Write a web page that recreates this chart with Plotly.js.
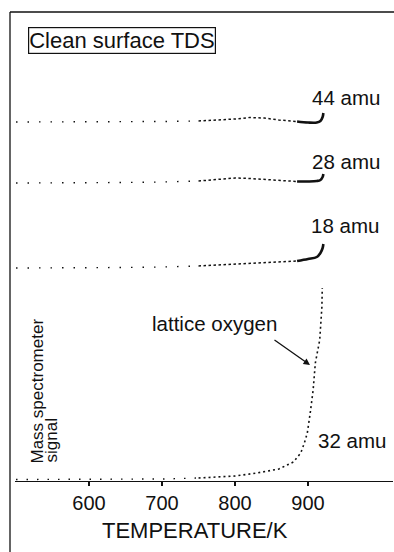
<!DOCTYPE html>
<html>
<head>
<meta charset="utf-8">
<script src="https://cdn.plot.ly/plotly-3.0.1.min.js"></script>
<style>html,body{margin:0;padding:0;background:#fff;}#chart{width:394px;height:552px;}</style>
</head>
<body>
<div id="chart"></div>
<script>
// ---- data (temperature in K, signal in arbitrary offset units) ----
const temps = [500, 550, 600, 650, 700, 750, 780, 800, 820, 840, 860, 885, 900, 912, 917, 920, 921];
const sig44 = [359, 359, 359, 359, 359.5, 360, 361, 362, 363.5, 363, 361, 359.5, 358.5, 358.5, 360, 364, 368];
const sig28 = [298, 298, 298, 298.5, 299, 300, 302, 303, 302.5, 301.5, 300.5, 299.5, 299.5, 300, 301, 304, 307];
const sig18 = [213, 213, 213.5, 213.5, 214, 215, 216, 217, 217.5, 218, 218.5, 220, 222, 224, 228, 233, 237];
const temps32 = [500, 550, 600, 650, 700, 750, 800, 830, 860, 880, 890, 895, 899, 903, 907, 910, 916, 919, 919.5];
const sig32 = [1.5, 1.5, 1.5, 1.5, 2, 3, 5, 8, 12, 19, 28, 38, 48, 68, 91, 118, 141, 174, 193];
const tickVals = [600, 700, 800, 900];
const tickText = ['600', '700', '800', '900'];
const seriesLabels = ['44 amu', '28 amu', '18 amu', '32 amu'];

const INK = '#111';
const FONT = 'Liberation Sans, Arial, Helvetica, sans-serif';

function seg(T, V, lo, hi, dash, width, shape) {
  const x = [], y = [];
  for (let i = 0; i < T.length; i++) {
    if (T[i] >= lo && T[i] <= hi) { x.push(T[i]); y.push(V[i]); }
  }
  return {x: x, y: y, type: 'scatter', mode: 'lines', showlegend: false, hoverinfo: 'skip',
          line: {color: INK, width: width, dash: dash, shape: shape || 'linear'}};
}

const traces = [];
[sig44, sig28, sig18].forEach(function (s) {
  traces.push(seg(temps, s, 0, 760, '1.5px,10px', 1.4));
  traces.push(seg(temps, s, 750, 890, '2.5px,2.5px', 1.5));
  traces.push(seg(temps, s, 885, 2000, 'solid', 2.6, 'spline'));
});
traces.push(seg(temps32, sig32, 0, 760, '1.5px,9px', 1.4));
traces.push(seg(temps32, sig32, 750, 2000, '2px,3px', 1.6));

// layout helpers: plot area spans pixels x 15..393, y 12..481
const L = 15, R = 393, T0 = 12, B = 481;
function px(x) { return (x - L) / (R - L); }
function py(y) { return (B - y) / (B - T0); }

function label(text, x, y, size, extra) {
  return Object.assign({text: text, xref: 'paper', yref: 'paper', x: px(x), y: py(y),
    xanchor: 'center', yanchor: 'middle', showarrow: false,
    font: {family: FONT, size: size, color: INK}}, extra || {});
}

const annotations = [
  label('Clean surface TDS', 122, 40.5, 22, {bordercolor: INK, borderwidth: 1.2, borderpad: 0}),
  label(seriesLabels[0], 346, 98, 20.5),
  label(seriesLabels[1], 346, 161, 20.5),
  label(seriesLabels[2], 345, 225, 20.5),
  label(seriesLabels[3], 352, 440, 20.5),
  label('lattice oxygen', 214.5, 323, 20.5),
  {text: '', xref: 'paper', yref: 'paper', x: px(310), y: py(365), ax: -37, ay: -26,
   showarrow: true, arrowhead: 2, arrowsize: 1, arrowwidth: 1.3, arrowcolor: INK, standoff: 0},
  label('Mass spectrometer', 37, 391.5, 17, {textangle: -90}),
  label('signal', 51, 440.5, 17, {textangle: -90}),
  label('TEMPERATURE/K', 195, 530, 22)
];

const shapes = [
  {type: 'line', xref: 'paper', yref: 'paper', x0: px(10), x1: px(10), y0: py(12), y1: py(552),
   line: {color: INK, width: 1.3}},
  {type: 'line', xref: 'paper', yref: 'paper', x0: px(10), x1: px(394), y0: py(12), y1: py(12),
   line: {color: INK, width: 1.3}}
];

const layout = {
  width: 394, height: 552,
  margin: {l: L, r: 394 - R, t: T0, b: 552 - B, pad: 0},
  paper_bgcolor: '#fff', plot_bgcolor: '#fff',
  showlegend: false,
  xaxis: {range: [498.6, 1016.4], tickvals: tickVals, ticktext: tickText,
          showline: true, linecolor: INK, linewidth: 1.3, ticks: 'outside', ticklen: 4,
          tickwidth: 1.2, tickcolor: INK, showgrid: false, zeroline: false,
          tickfont: {family: FONT, size: 20, color: INK}, fixedrange: true},
  xaxis2: {overlaying: 'x', matches: 'x', anchor: 'y', side: 'bottom', tickvals: tickVals,
           ticks: 'inside', ticklen: 4, tickwidth: 1.2, tickcolor: INK, showticklabels: false,
           showline: false, showgrid: false, zeroline: false},
  yaxis: {range: [0, 469], visible: false, showgrid: false, zeroline: false, fixedrange: true},
  annotations: annotations,
  shapes: shapes
};

Plotly.newPlot('chart', traces, layout, {displayModeBar: false, staticPlot: true});
</script>
</body>
</html>
